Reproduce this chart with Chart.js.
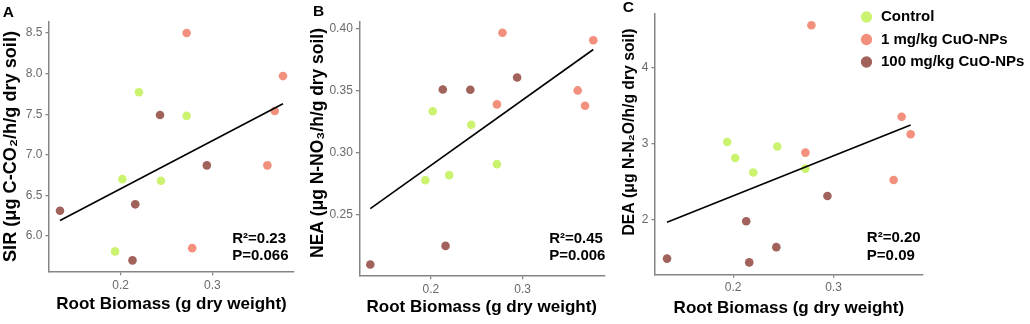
<!DOCTYPE html>
<html>
<head>
<meta charset="utf-8">
<script src="https://cdn.jsdelivr.net/npm/chart.js@4.4.1/dist/chart.umd.min.js"></script>
<style>
html, body { margin: 0; padding: 0; background: #fff; overflow: hidden; width: 1030px; height: 324px; }
canvas { position: absolute; display: block; }
</style>
</head>
<body>
<canvas id="cA" width="310" height="324" style="left:0px;top:0px"></canvas>
<canvas id="cB" width="313" height="324" style="left:307px;top:0px"></canvas>
<canvas id="cC" width="412" height="324" style="left:618px;top:0px"></canvas>
<canvas id="cL" width="178" height="170" style="left:852px;top:2px"></canvas>
<script>
// ---------------- data ----------------
const groupNames = ['Control', '1 mg/kg CuO-NPs', '100 mg/kg CuO-NPs'];
const groupColors = ['#ccf370', '#f3907d', '#a2625c'];

// root biomass (g dry weight) per group
const controlBiomass = [0.194, 0.202, 0.220, 0.244, 0.272];
const lowCuBiomass   = [0.272, 0.278, 0.360, 0.368, 0.377];
const highCuBiomass  = [0.134, 0.213, 0.216, 0.243, 0.294];

// A: SIR
const sirControl = [5.81, 6.70, 7.77, 6.68, 7.48];
const sirLowCu   = [8.50, 5.85, 6.87, 7.54, 7.97];
const sirHighCu  = [6.31, 5.70, 6.39, 7.49, 6.87];

// B: NEA
const neaControl = [0.2775, 0.3334, 0.2817, 0.3224, 0.2906];
const neaLowCu   = [0.3389, 0.3968, 0.3502, 0.3378, 0.3908];
const neaHighCu  = [0.2094, 0.3510, 0.2244, 0.3507, 0.3607];

// C: DEA
const deaControl = [3.02, 2.81, 2.62, 2.96, 2.67];
const deaLowCu   = [2.88, 4.55, 2.52, 3.35, 3.12];
const deaHighCu  = [1.49, 1.98, 1.44, 1.64, 2.31];

// fitted regression lines (end points)
const fitBiomass = [0.134, 0.377];
const sirFit = [6.19, 7.63];
const neaFit = [0.2546, 0.3833];
const deaFit = [1.966, 3.242];

// ticks
const biomassTicks = [0.2, 0.3];
const biomassTickLabels = ['0.2', '0.3'];
const sirTicks = [6.0, 6.5, 7.0, 7.5, 8.0, 8.5];
const sirTickLabels = ['6.0', '6.5', '7.0', '7.5', '8.0', '8.5'];
const neaTicks = [0.25, 0.30, 0.35, 0.40];
const neaTickLabels = ['0.25', '0.30', '0.35', '0.40'];
const deaTicks = [2, 3, 4];
const deaTickLabels = ['2', '3', '4'];

// texts
const panelLetters = ['A', 'B', 'C'];
const yTitles = ['SIR (μg C-CO₂/h/g dry soil)', 'NEA (μg N-NO₃/h/g dry soil)', 'DEA (μg N-N₂O/h/g dry soil)'];
const xTitle = 'Root Biomass (g dry weight)';
const statR2 = ['R²=0.23', 'R²=0.45', 'R²=0.20'];
const statP = ['P=0.066', 'P=0.006', 'P=0.09'];

// ---------------- drawing ----------------
const FONT = "'Liberation Sans', Arial, Helvetica, sans-serif";
Chart.defaults.font.family = FONT;
const axisColor = '#858585';
const tickColor = '#6a6a6a';

function pts(xs, ys) { return xs.map((x, i) => ({ x: x, y: ys[i] })); }

const annotatePlugin = {
  id: 'annotate',
  afterDatasetsDraw(chart, args, o) {
    const ctx = chart.ctx, xs = chart.scales.x, ys = chart.scales.y;
    ctx.save();
    ctx.fillStyle = '#000';
    ctx.textAlign = 'left';
    ctx.textBaseline = 'middle';
    ctx.font = 'bold 15px ' + FONT;
    const sx = xs.getPixelForValue(o.statX);
    ctx.fillText(o.r2, sx, ys.getPixelForValue(o.r2Y));
    ctx.fillText(o.p, sx, ys.getPixelForValue(o.pY));
    ctx.font = 'bold 15.5px ' + FONT;
    ctx.fillText(o.letter, o.letterX, o.letterY);
    // y axis title, rotated, sized to its span
    ctx.translate(o.yTitleX, o.yTitleY);
    ctx.rotate(-Math.PI / 2);
    ctx.font = 'bold 17px ' + FONT;
    const w = ctx.measureText(o.yTitle).width;
    ctx.font = 'bold ' + (17 * o.yTitleLen / w).toFixed(2) + 'px ' + FONT;
    ctx.textAlign = 'center';
    ctx.fillText(o.yTitle, 0, 0);
    ctx.restore();
  }
};

function makePanel(id, i, series, fit, yTicks, yTickLabels, L) {
  const datasets = [{
    label: 'fit',
    data: pts(fitBiomass, fit),
    showLine: true,
    borderColor: '#000',
    borderWidth: 1.6,
    pointRadius: 0,
    fill: false
  }];
  const xsAll = [controlBiomass, lowCuBiomass, highCuBiomass];
  series.forEach((ys, g) => {
    datasets.push({
      label: groupNames[g],
      data: pts(xsAll[g], ys),
      backgroundColor: groupColors[g],
      borderColor: groupColors[g],
      pointBorderWidth: 0,
      pointRadius: 4.3,
      showLine: false
    });
  });
  return new Chart(document.getElementById(id), {
    type: 'scatter',
    data: { datasets: datasets },
    plugins: [annotatePlugin],
    options: {
      responsive: false,
      animation: false,
      devicePixelRatio: 1,
      events: [],
      layout: { padding: L.pad },
      plugins: {
        legend: { display: false },
        tooltip: { enabled: false },
        annotate: { statX: L.statX, r2Y: L.r2Y, pY: L.pY, r2: statR2[i], p: statP[i],
                    letter: panelLetters[i], letterX: L.letterX, letterY: L.letterY,
                    yTitle: yTitles[i], yTitleX: L.yTitleX, yTitleY: L.yTitleY, yTitleLen: L.yTitleLen }
      },
      scales: {
        x: {
          type: 'linear', min: 0.122, max: 0.389,
          afterBuildTicks: s => { s.ticks = biomassTicks.map(v => ({ value: v })); },
          afterFit: s => { s.height = L.xH; },
          ticks: { callback: (v, k) => biomassTickLabels[k], color: tickColor, font: { size: 12 },
                   padding: 3, maxRotation: 0, autoSkip: false },
          grid: { display: true, drawOnChartArea: false, drawTicks: true, tickLength: 3.5,
                  color: axisColor, lineWidth: 1.3 },
          border: { display: true, color: axisColor, width: 1.5 },
          title: { display: true, text: xTitle, color: '#000',
                   font: { size: 17, weight: 'bold' }, padding: { top: 0, bottom: L.xTitlePad } }
        },
        y: {
          type: 'linear', min: L.yMin, max: L.yMax,
          afterBuildTicks: s => { s.ticks = yTicks.map(v => ({ value: v })); },
          afterFit: s => { s.width = L.yW; },
          ticks: { callback: (v, k) => yTickLabels[k], color: tickColor, font: { size: 12 },
                   padding: 3, autoSkip: false },
          grid: { display: true, drawOnChartArea: false, drawTicks: true, tickLength: 3.5,
                  color: axisColor, lineWidth: 1.3 },
          border: { display: true, color: axisColor, width: 1.5 },
          title: { display: false, text: yTitles[i] }
        }
      }
    }
  });
}

makePanel('cA', 0, [sirControl, sirLowCu, sirHighCu], sirFit, sirTicks, sirTickLabels, {
  pad: { top: 21.7, right: 16, bottom: 0, left: 0 }, yW: 49, xH: 52.3, xTitlePad: 9.8,
  yMin: 5.56, yMax: 8.64, statX: 0.3217, r2Y: 5.964, pY: 5.755, letterX: 2.7, letterY: 12.3,
  yTitleX: 11.3, yTitleY: 146.5, yTitleLen: 231
});
makePanel('cB', 1, [neaControl, neaLowCu, neaHighCu], neaFit, neaTicks, neaTickLabels, {
  pad: { top: 21.7, right: 15.7, bottom: 0, left: 0 }, yW: 52.3, xH: 48.3, xTitlePad: 6.3,
  yMin: 0.2003, yMax: 0.4058, statX: 0.3289, r2Y: 0.2304, pY: 0.2161, letterX: 6, letterY: 11.7,
  yTitleX: 11.5, yTitleY: 143, yTitleLen: 230
});
makePanel('cC', 2, [deaControl, deaLowCu, deaHighCu], deaFit, deaTicks, deaTickLabels, {
  pad: { top: 13.3, right: 107.3, bottom: 0, left: 0 }, yW: 37, xH: 49.7, xTitlePad: 5.8,
  yMin: 1.284, yMax: 4.707, statX: 0.3333, r2Y: 1.765, pY: 1.529, letterX: 4.7, letterY: 8,
  yTitleX: 12, yTitleY: 132, yTitleLen: 207
});

// legend
new Chart(document.getElementById('cL'), {
  type: 'scatter',
  data: { datasets: groupNames.map((n, g) => ({ label: n, data: [], backgroundColor: groupColors[g],
                                                 borderColor: groupColors[g], pointBorderWidth: 0 })) },
  options: {
    responsive: false, animation: false, devicePixelRatio: 1, events: [],
    layout: { padding: 0 },
    scales: { x: { display: false }, y: { display: false } },
    plugins: {
      tooltip: { enabled: false },
      legend: {
        display: true, position: 'top', align: 'start',
        labels: { usePointStyle: true, pointStyle: 'circle', boxWidth: 14, boxHeight: 8,
                  padding: 7.5, color: '#000', font: { size: 15, weight: 'bold' } }
      }
    }
  }
});
</script>
</body>
</html>
